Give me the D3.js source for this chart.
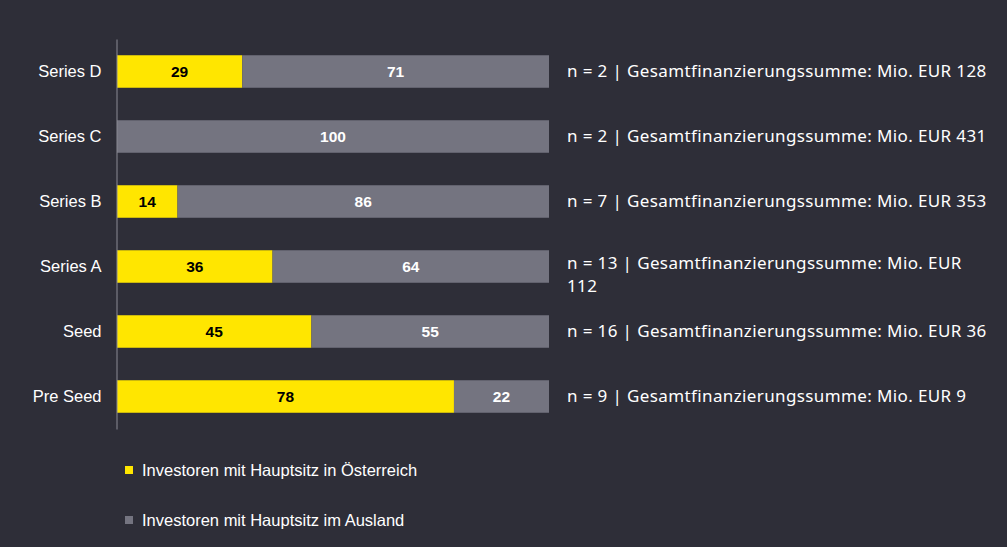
<!DOCTYPE html>
<html>

<head>
    <meta charset="utf-8">
    <title>Investoren nach Finanzierungsphase</title>
    <script src="https://cdn.jsdelivr.net/npm/d3@7"></script>
    <style>
        body {
            margin: 0;
            background: #2e2e38;
        }

        svg {
            display: block;
            font-family: 'Liberation Sans', Arial, sans-serif;
        }
    </style>
</head>

<body>
    <script>
        // Data
        const categories = ['Series D', 'Series C', 'Series B', 'Series A', 'Seed', 'Pre Seed'];
        const austria = [29, 0, 14, 36, 45, 78];
        const abroad = [71, 100, 86, 64, 55, 22];
        const notes = [
            'n = 2 | Gesamtfinanzierungssumme: Mio. EUR 128',
            'n = 2 | Gesamtfinanzierungssumme: Mio. EUR 431',
            'n = 7 | Gesamtfinanzierungssumme: Mio. EUR 353',
            'n = 13 | Gesamtfinanzierungssumme: Mio. EUR 112',
            'n = 16 | Gesamtfinanzierungssumme: Mio. EUR 36',
            'n = 9 | Gesamtfinanzierungssumme: Mio. EUR 9'
        ];
        const seriesNames = ['Investoren mit Hauptsitz in Österreich', 'Investoren mit Hauptsitz im Ausland'];
        const colors = ['#ffe600', '#747480'];
        const labelColors = ['#000000', '#ffffff'];

        const width = 1007;
        const height = 547;

        const svg = d3.select('body')
            .append('svg')
            .attr('width', width)
            .attr('height', height);

        const rows = categories.map((c, i) => ({ name: c, values: [austria[i], abroad[i]], note: notes[i] }));

        // Scales
        const yScale = d3.scaleBand()
            .domain(categories)
            .range([39, 429])
            .paddingInner(0.5)
            .paddingOuter(0.25);

        const xScale = d3.scaleLinear()
            .domain([0, 100])
            .range([117, 549]);

        // Stacked segments
        const stack = d3.stack()
            .keys([0, 1])
            .value((d, k) => d.values[k]);
        const layers = stack(rows);

        const layer = svg.selectAll('.layer')
            .data(layers)
            .enter()
            .append('g')
            .attr('class', 'layer')
            .attr('fill', d => colors[d.key]);

        layer.selectAll('rect')
            .data(d => d.map(s => ({ s, key: d.key })))
            .enter()
            .append('rect')
            .attr('x', d => xScale(d.s[0]))
            .attr('y', d => yScale(d.s.data.name))
            .attr('width', d => xScale(d.s[1]) - xScale(d.s[0]))
            .attr('height', yScale.bandwidth());

        // Segment labels
        layer.selectAll('text')
            .data(d => d.map(s => ({ s, key: d.key })).filter(d => d.s[1] - d.s[0] > 0))
            .enter()
            .append('text')
            .attr('x', d => (xScale(d.s[0]) + xScale(d.s[1])) / 2)
            .attr('y', d => yScale(d.s.data.name) + yScale.bandwidth() / 2)
            .attr('dy', '0.35em')
            .attr('text-anchor', 'middle')
            .attr('fill', d => labelColors[d.key])
            .style('font-size', '15.5px')
            .style('font-weight', 'bold')
            .text(d => d.s[1] - d.s[0]);

        // Y axis
        const yAxis = svg.append('g')
            .attr('transform', `translate(${xScale(0) - 0.5}, 0)`)
            .call(d3.axisLeft(yScale).tickSize(0).tickPadding(15));
        yAxis.select('.domain')
            .attr('stroke', '#8a8a94')
            .attr('stroke-width', 1);
        yAxis.selectAll('.tick text')
            .attr('fill', '#ffffff')
            .style('font-size', '16.5px')
            .style('font-family', "'Liberation Sans', Arial, sans-serif");

        // Notes on the right, wrapped to fit
        const noteX = 567;
        const noteMax = width - noteX - 15;
        const noteG = svg.append('g');
        rows.forEach(r => {
            const t = noteG.append('text')
                .attr('x', noteX)
                .attr('y', yScale(r.name) + yScale.bandwidth() / 2)
                .attr('dy', '0.35em')
                .attr('fill', '#ffffff')
                .style('font-family', "'Noto Sans', sans-serif")
                .style('font-size', '17px')
                .style('letter-spacing', '0.38px');
            const words = r.note.split(' ');
            let line = [];
            let tspan = t.append('tspan').attr('x', noteX);
            let lineNo = 0;
            words.forEach(w => {
                line.push(w);
                tspan.text(line.join(' '));
                if (tspan.node().getComputedTextLength() > noteMax && line.length > 1) {
                    line.pop();
                    tspan.text(line.join(' '));
                    line = [w];
                    lineNo++;
                    tspan = t.append('tspan').attr('x', noteX).attr('dy', '1.3em').text(w);
                }
            });
            if (lineNo > 0) t.attr('y', yScale(r.name) + yScale.bandwidth() / 2 - 3);
        });

        // Legend
        const legend = svg.selectAll('.legend')
            .data(seriesNames)
            .enter()
            .append('g')
            .attr('class', 'legend')
            .attr('transform', (d, i) => `translate(125, ${470 + i * 50})`);

        legend.append('rect')
            .attr('x', 0)
            .attr('y', -4)
            .attr('width', 8)
            .attr('height', 8)
            .attr('fill', (d, i) => colors[i]);

        legend.append('text')
            .attr('x', 17)
            .attr('y', 0)
            .attr('dy', '0.35em')
            .attr('fill', '#ffffff')
            .style('font-size', '16.5px')
            .text(d => d);
    </script>
</body>

</html>
